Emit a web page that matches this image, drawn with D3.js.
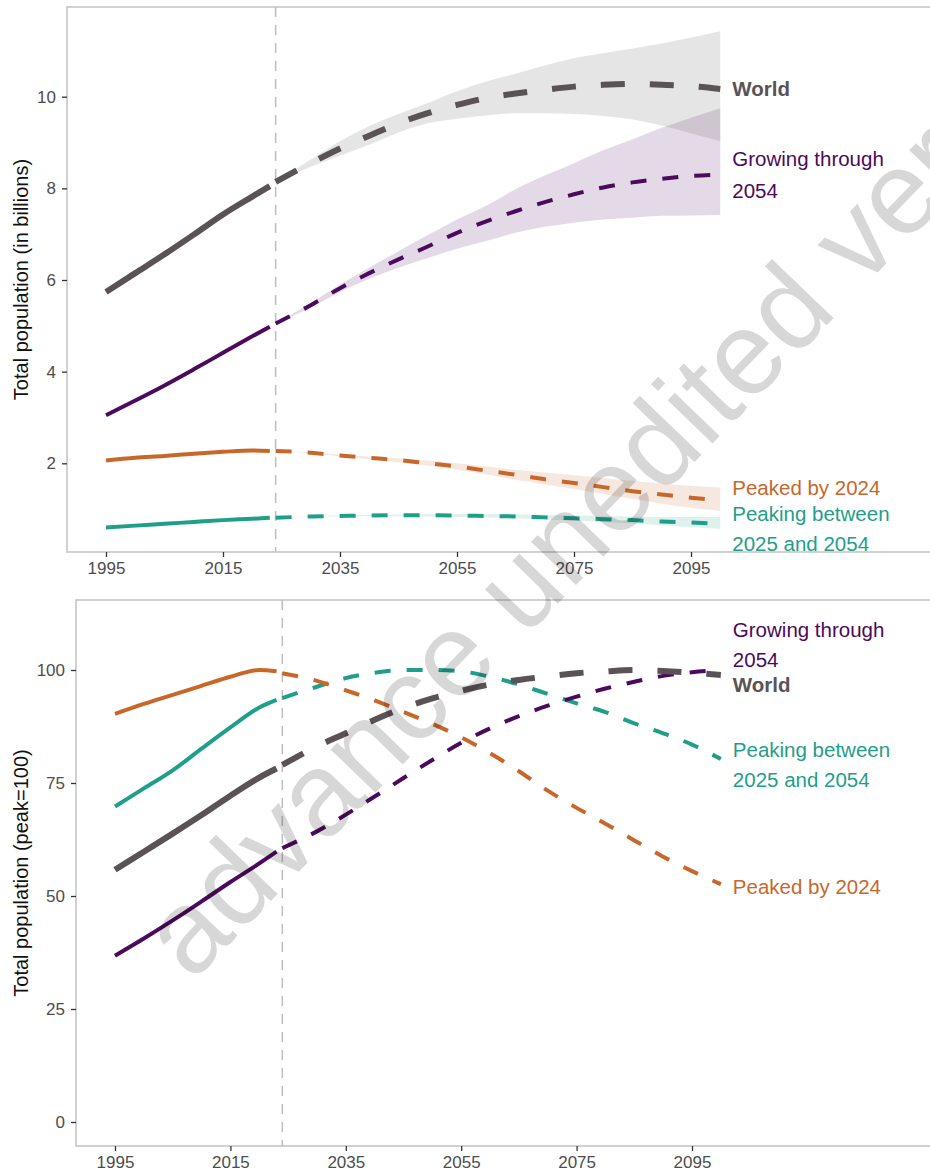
<!DOCTYPE html>
<html><head><meta charset="utf-8">
<script src="https://cdn.jsdelivr.net/npm/d3@7"></script>
<style>
html,body{margin:0;padding:0;background:#fff;}
svg{display:block;}
.tick text{font-family:'Liberation Sans',Arial,sans-serif;}
</style></head><body>
<svg id="chart" width="930" height="1171"></svg>
<script>
// ---------------- DATA ----------------
const estYears  = [1995, 2000, 2005, 2010, 2015, 2020, 2023];
const projYears = [2024, 2030, 2035, 2040, 2045, 2050, 2055, 2060, 2065, 2070, 2075, 2080, 2085, 2090, 2095, 2100];
const xTicks = [1995, 2015, 2035, 2055, 2075, 2095];
const yTicksTop = [2, 4, 6, 8, 10];
const yTicksBottom = [0, 25, 50, 75, 100];

// Top panel: total population, billions
const worldEst   = [5.74, 6.15, 6.56, 6.99, 7.43, 7.82, 8.05];
const worldProj  = [8.14, 8.55, 8.87, 9.15, 9.42, 9.64, 9.82, 9.97, 10.07, 10.15, 10.22, 10.26, 10.28, 10.26, 10.23, 10.17];
const worldLo    = [8.14, 8.47, 8.71, 8.95, 9.22, 9.42, 9.52, 9.59, 9.64, 9.64, 9.62, 9.58, 9.50, 9.37, 9.20, 9.03];
const worldHi    = [8.14, 8.63, 9.03, 9.36, 9.62, 9.86, 10.12, 10.33, 10.50, 10.68, 10.84, 10.95, 11.05, 11.16, 11.29, 11.43];

const growEst    = [3.05, 3.37, 3.70, 4.05, 4.41, 4.77, 4.98];
const growProj   = [5.05, 5.45, 5.82, 6.15, 6.45, 6.73, 7.03, 7.28, 7.50, 7.70, 7.87, 8.02, 8.13, 8.21, 8.27, 8.30];
const growLo     = [5.05, 5.40, 5.74, 6.03, 6.27, 6.48, 6.68, 6.85, 7.03, 7.16, 7.25, 7.32, 7.36, 7.40, 7.41, 7.42];
const growHi     = [5.05, 5.50, 5.90, 6.27, 6.63, 6.98, 7.32, 7.62, 7.98, 8.28, 8.55, 8.83, 9.07, 9.32, 9.54, 9.75];

const peakedEst  = [2.06, 2.12, 2.16, 2.21, 2.25, 2.28, 2.27];
const peakedProj = [2.27, 2.23, 2.17, 2.12, 2.07, 2.00, 1.93, 1.84, 1.75, 1.65, 1.57, 1.48, 1.39, 1.32, 1.25, 1.19];
const peakedLo   = [2.27, 2.22, 2.15, 2.09, 2.02, 1.95, 1.86, 1.76, 1.64, 1.54, 1.44, 1.33, 1.22, 1.12, 1.03, 0.96];
const peakedHi   = [2.27, 2.24, 2.19, 2.15, 2.11, 2.06, 2.00, 1.93, 1.86, 1.80, 1.74, 1.68, 1.62, 1.56, 1.51, 1.47];

const peakingEst  = [0.60, 0.64, 0.68, 0.72, 0.76, 0.79, 0.81];
const peakingProj = [0.81, 0.84, 0.85, 0.86, 0.865, 0.865, 0.86, 0.85, 0.84, 0.82, 0.80, 0.78, 0.76, 0.73, 0.71, 0.68];
const peakingLo   = [0.81, 0.835, 0.84, 0.845, 0.845, 0.84, 0.83, 0.815, 0.80, 0.775, 0.75, 0.72, 0.69, 0.65, 0.61, 0.57];
const peakingHi   = [0.81, 0.845, 0.86, 0.875, 0.885, 0.89, 0.895, 0.895, 0.89, 0.875, 0.86, 0.85, 0.84, 0.83, 0.83, 0.83];

// Bottom panel: index, peak = 100
const worldIdxEst    = [55.8, 59.8, 63.8, 67.9, 72.2, 76.2, 78.2];
const worldIdxProj   = [79.0, 83.1, 86.0, 89.0, 91.6, 93.7, 95.4, 96.8, 97.8, 98.6, 99.3, 99.7, 100, 99.8, 99.4, 98.9];
const growIdxEst     = [36.8, 40.6, 44.6, 48.8, 53.1, 57.2, 59.8];
const growIdxProj    = [60.6, 64.3, 68.0, 72.0, 76.1, 80.1, 83.9, 87.1, 89.8, 92.1, 94.1, 95.9, 97.4, 98.7, 99.5, 100];
const peakedIdxEst   = [90.3, 92.5, 94.5, 96.5, 98.5, 100, 99.7];
const peakedIdxProj  = [99.3, 97.6, 95.5, 93.3, 90.7, 88.1, 85.1, 81.6, 77.6, 73.3, 69.5, 66.0, 62.3, 58.7, 55.5, 52.6];
const peakingIdxEst  = [69.8, 73.8, 77.8, 82.6, 87.3, 91.7, 93.4];
const peakingIdxProj = [93.8, 96.3, 98.2, 99.4, 100, 100, 99.7, 98.5, 96.8, 94.7, 92.6, 90.7, 88.2, 86.0, 83.5, 80.3];

const labelWorld   = ["World"];
const labelGrow    = ["Growing through", "2054"];
const labelPeaked  = ["Peaked by 2024"];
const labelPeaking = ["Peaking between", "2025 and 2054"];
const titleTop = "Total population (in billions)";
const titleBottom = "Total population (peak=100)";
const watermark = "advance unedited version";
const splitYear = 2024;

// ---------------- STYLE ----------------
const COL = { world: "#5a5356", grow: "#4b0a5c", peaked: "#c7682a", peaking: "#1f9e89" };
const FONT = "'Liberation Sans', Arial, sans-serif";

const svg = d3.select("#chart");

function drawPanel(p) {
  const g = svg.append("g");
  const x = d3.scaleLinear().domain([1995, 2095]).range(p.xr);
  const y = d3.scaleLinear().domain(p.yd).range(p.yr);

  // panel border
  g.append("rect").attr("x", p.left).attr("y", p.top)
    .attr("width", 940 - p.left).attr("height", p.bottom - p.top)
    .attr("fill", "none").attr("stroke", "#c6c6c6").attr("stroke-width", 1.6);

  // bands
  const area = d3.area().curve(d3.curveMonotoneX)
    .x((d, i) => x(projYears[i])).y0(d => y(d[0])).y1(d => y(d[1]));
  p.series.forEach(s => {
    if (!s.lo) return;
    g.append("path").datum(s.lo.map((v, i) => [v, s.hi[i]]))
      .attr("d", area).attr("fill", s.color).attr("fill-opacity", 0.15);
  });

  // vertical dashed line
  g.append("line").attr("x1", x(splitYear)).attr("x2", x(splitYear))
    .attr("y1", p.top).attr("y2", p.bottom)
    .attr("stroke", "#bdbdbd").attr("stroke-width", 1.5).attr("stroke-dasharray", "10,8");

  // lines
  const lineE = d3.line().curve(d3.curveMonotoneX).x((d, i) => x(estYears[i])).y(d => y(d));
  const lineP = d3.line().curve(d3.curveMonotoneX).x((d, i) => x(projYears[i])).y(d => y(d));
  p.series.forEach(s => {
    g.append("path").datum(s.est).attr("d", lineE).attr("fill", "none")
      .attr("stroke", s.color).attr("stroke-width", s.w);
    g.append("path").datum(s.proj).attr("d", lineP).attr("fill", "none")
      .attr("stroke", s.color).attr("stroke-width", s.w)
      .attr("stroke-dasharray", s.dash);
  });

  // axes
  const ax = g.append("g").attr("transform", `translate(0,${p.bottom})`)
    .call(d3.axisBottom(x).tickValues(xTicks).tickFormat(d3.format("d")).tickSize(5).tickPadding(5));
  const ay = g.append("g").attr("transform", `translate(${p.left},0)`)
    .call(d3.axisLeft(y).tickValues(p.yt).tickSize(5).tickPadding(6));
  [ax, ay].forEach(a => {
    a.select(".domain").remove();
    a.selectAll(".tick line").attr("stroke", "#333").attr("stroke-width", 1.3);
    a.selectAll(".tick text").attr("fill", "#4d4d4d").style("font-size", "17px");
  });

  // axis title
  g.append("text").attr("transform", `translate(28,${(p.top + p.bottom) / 2}) rotate(-90)`)
    .attr("text-anchor", "middle").style("font-family", FONT).style("font-size", "20px")
    .attr("fill", "#111").text(p.title);

  // end labels
  const lx = x(2100) + 12;
  p.series.forEach(s => {
    const last = s.proj[s.proj.length - 1];
    const t = g.append("text").style("font-family", FONT).style("font-size", "20.5px")
      .style("font-weight", s.bold ? "bold" : "normal").attr("fill", s.color);
    s.label.forEach((ln, i) => {
      t.append("tspan").attr("x", lx).attr("y", y(last) + s.ldy + i * s.lstep).text(ln);
    });
  });
}

drawPanel({
  left: 67, top: 7, bottom: 552, xr: [106, 691], yd: [2, 10], yr: [463.3, 96.7], yt: yTicksTop,
  title: titleTop,
  series: [
    { est: peakingEst, proj: peakingProj, lo: peakingLo, hi: peakingHi, color: COL.peaking, w: 4, dash: "16,16", label: labelPeaking, ldy: -2.4, lstep: 29.5 },
    { est: peakedEst, proj: peakedProj, lo: peakedLo, hi: peakedHi, color: COL.peaked, w: 4, dash: "16,16", label: labelPeaked, ldy: -5.8, lstep: 30 },
    { est: growEst, proj: growProj, lo: growLo, hi: growHi, color: COL.grow, w: 4, dash: "16,16", label: labelGrow, ldy: -8.5, lstep: 31.5 },
    { est: worldEst, proj: worldProj, lo: worldLo, hi: worldHi, color: COL.world, w: 6, dash: "24,25", label: labelWorld, ldy: 7.5, lstep: 30, bold: true }
  ]
});

drawPanel({
  left: 76, top: 600, bottom: 1146, xr: [115, 692], yd: [0, 100], yr: [1122, 670], yt: yTicksBottom,
  title: titleBottom,
  series: [
    { est: peakingIdxEst, proj: peakingIdxProj, color: COL.peaking, w: 4, dash: "16,16", label: labelPeaking, ldy: -2.3, lstep: 30 },
    { est: peakedIdxEst, proj: peakedIdxProj, color: COL.peaked, w: 4, dash: "16,16", label: labelPeaked, ldy: 9.8, lstep: 30 },
    { est: growIdxEst, proj: growIdxProj, color: COL.grow, w: 4, dash: "16,16", label: labelGrow, ldy: -33.3, lstep: 30.6 },
    { est: worldIdxEst, proj: worldIdxProj, color: COL.world, w: 6, dash: "24,25", label: labelWorld, ldy: 16.7, lstep: 30, bold: true }
  ]
});

// watermark
svg.append("text").attr("transform", "translate(659,499) rotate(-46)")
  .attr("text-anchor", "middle").style("font-family", FONT).style("font-size", "118px")
  .attr("fill", "#000").attr("fill-opacity", 0.155).text(watermark);
</script>
</body></html>
